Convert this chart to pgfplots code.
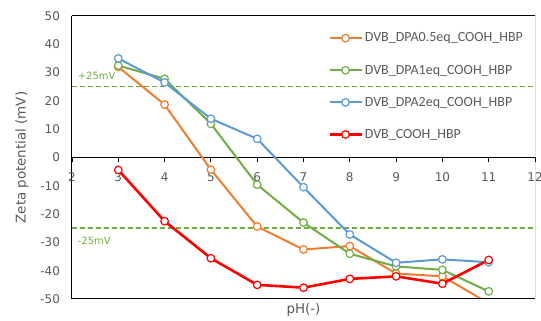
\documentclass[border=0pt]{standalone}
\usepackage{pgfplots}
\pgfplotsset{compat=1.18}
\usepackage{fontspec}
\setmainfont{DejaVu Sans}
\newfontfamily\legfont{Carlito}
\definecolor{cOrange}{HTML}{ED7D31}
\definecolor{cGreen}{HTML}{70AD47}
\definecolor{cBlue}{HTML}{5B9BD5}
\definecolor{cRed}{HTML}{FF0000}
\definecolor{cText}{HTML}{595959}
\begin{document}
\begin{tikzpicture}
\useasboundingbox (-72pt,-22pt) rectangle (469pt,299pt);
\begin{axis}[
  scale only axis,
  width=463pt, height=283pt,
  xmin=2, xmax=12, ymin=-50, ymax=50,
  xtick={2,3,...,12}, ytick={-50,-40,...,50},
  axis x line=middle, axis y line=left,
  hide obscured x ticks=false,
  axis line style={-, black, line width=1pt},
  x tick style={black, line width=0.9pt},
  xtick align=outside,
  major tick length=5pt,
  y tick style={draw=none},
  /pgf/number format/assume math mode=true,
  tick label style={font=\fontsize{12}{14}\selectfont, text=cText},
  xticklabel style={yshift=-7pt},
  yticklabel style={xshift=-6pt},
  xlabel={pH(-)},
  ylabel={Zeta potential (mV)},
  label style={font=\fontsize{13.4}{15}\selectfont, text=cText},
  x label style={at={(axis description cs:0.5,0)}, anchor=north, yshift=-1pt},
  y label style={at={(axis description cs:-0.108,0.5)}, anchor=center, rotate=0},
  legend style={draw=none, fill=none, at={(axis description cs:0.553,0.948)}, anchor=north west,
    font=\legfont\fontsize{14}{16}\selectfont, text=cText, row sep=17.5pt, inner sep=0pt,
    cells={anchor=west}},
  legend image code/.code={\draw[mark repeat=2,mark phase=2] plot coordinates {(0pt,0pt) (16pt,0pt) (32pt,0pt)};},
  legend cell align=left,
  every axis plot/.append style={line width=2pt, mark=o, mark size=3.8pt, mark options={fill=white, line width=1.2pt}},
]
\addplot[cGreen, dashed, line width=1.5pt, mark=none, forget plot, dash pattern=on 5pt off 3pt] coordinates {(2,25) (12,25)};
\addplot[cGreen, dashed, line width=1.5pt, mark=none, forget plot, dash pattern=on 5pt off 3pt] coordinates {(2,-25) (12,-25)};
\addplot[cOrange, mark=none, forget plot] coordinates {(10,-42) (11,-51.5)};
\addplot[cOrange, mark=*] coordinates {
(3,32) (4,18.7) (5,-4.3) (6,-24.4) (7,-32.5) (8,-31.3) (9,-41) (10,-42)};
\addlegendentry{DVB\_DPA0.5eq\_COOH\_HBP}
\addplot[cGreen, mark=*] coordinates {
(3,32.5) (4,27.8) (5,11.9) (6,-9.6) (7,-23) (8,-34) (9,-38.5) (10,-39.7) (11,-47.3)};
\addlegendentry{DVB\_DPA1eq\_COOH\_HBP}
\addplot[cBlue, mark=*] coordinates {
(3,35) (4,26.5) (5,13.7) (6,6.6) (7,-10.5) (8,-27.2) (9,-37.2) (10,-36) (11,-37)};
\addlegendentry{DVB\_DPA2eq\_COOH\_HBP}
\addplot[cRed, mark=*, line width=2.6pt] coordinates {
(3,-4.4) (4,-22.5) (5,-35.6) (6,-45) (7,-46) (8,-42.9) (9,-42) (10,-44.6) (11,-36.2)};
\addlegendentry{DVB\_COOH\_HBP}
\draw[black, line width=1pt] (rel axis cs:0,0) rectangle (rel axis cs:1,1);
\node[text=cGreen, font=\fontsize{10}{11}\selectfont, anchor=west] at (axis cs:2.05,28.8) {+25mV};
\node[text=cGreen, font=\fontsize{10}{11}\selectfont, anchor=west] at (axis cs:2.05,-29.3) {-25mV};
\end{axis}
\end{tikzpicture}
\end{document}
